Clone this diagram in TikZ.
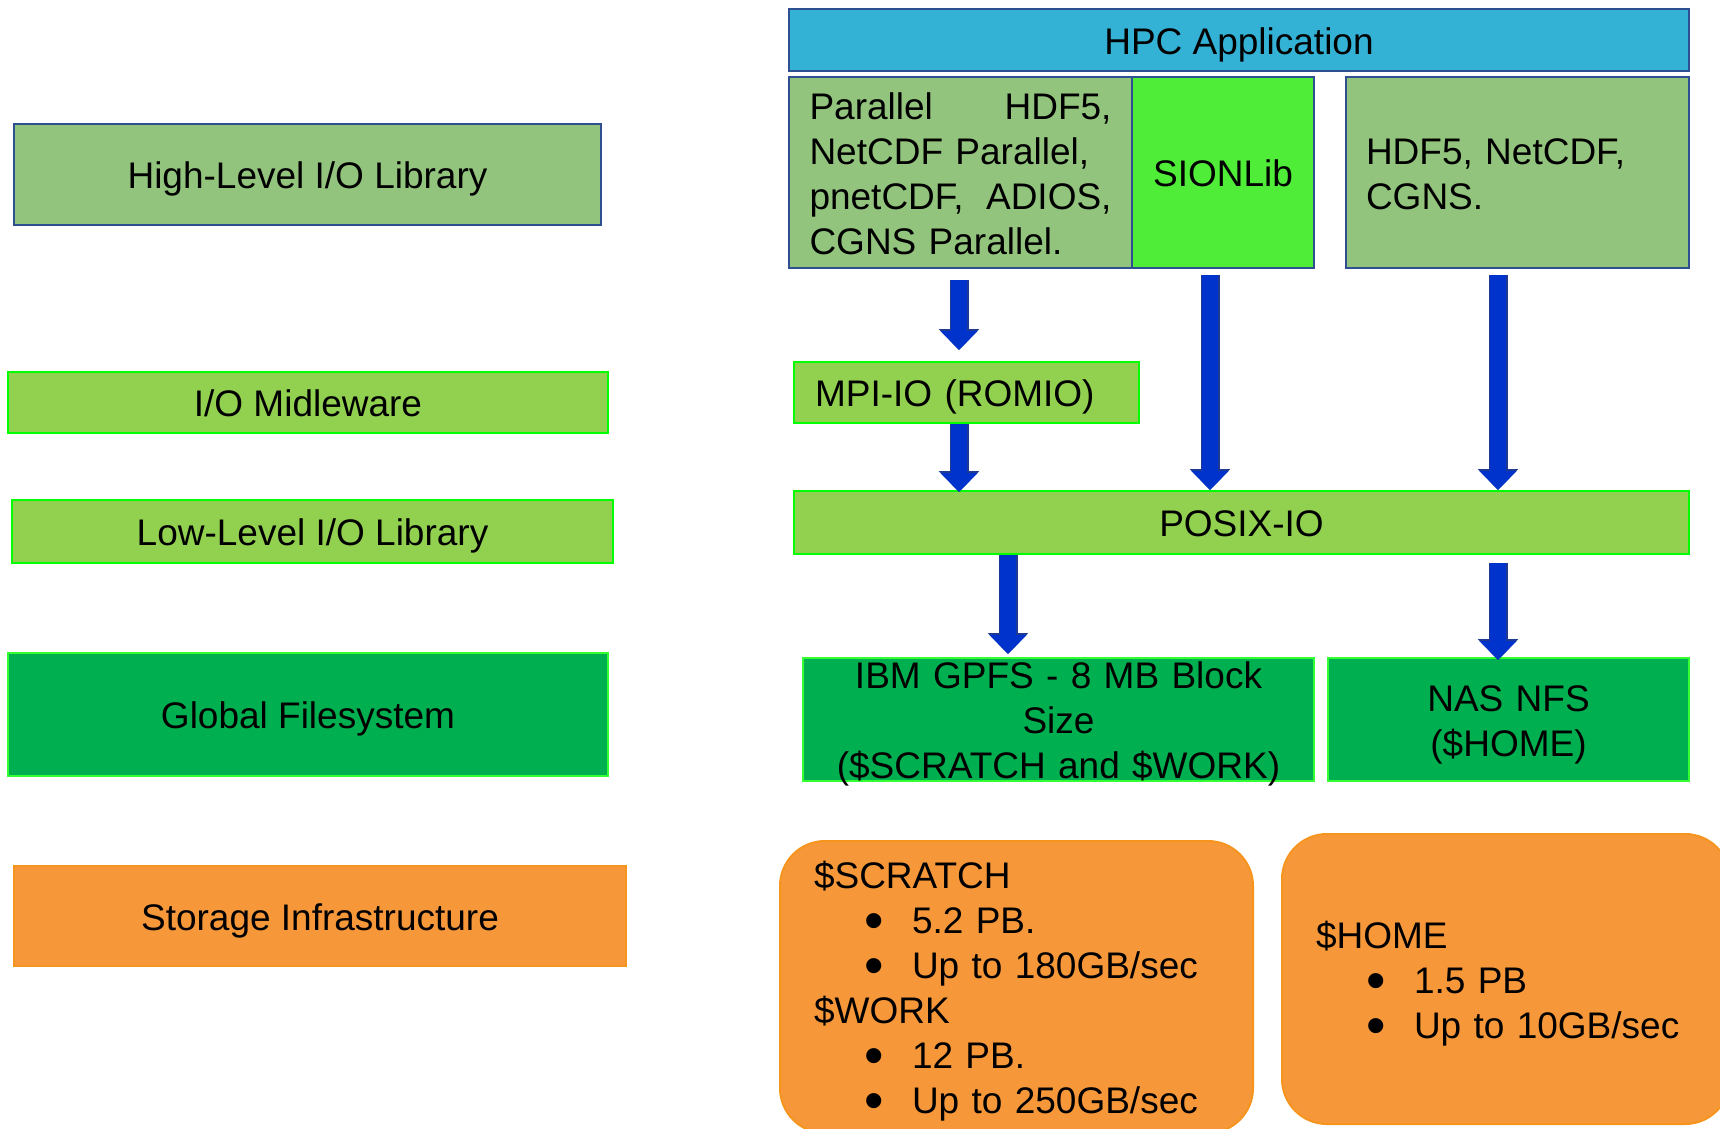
\documentclass[tikz,border=0pt]{standalone}
\usepackage{fontspec}
\setmainfont{Liberation Sans}
\usetikzlibrary{arrows.meta}
\definecolor{hpcblue}{HTML}{33B2D6}
\definecolor{navy}{HTML}{2F5090}
\definecolor{hlgreen}{HTML}{93C47D}
\definecolor{siongreen}{HTML}{4FEC38}
\definecolor{midgreen}{HTML}{92D050}
\definecolor{brightgreen}{HTML}{00FF00}
\definecolor{darkgreen}{HTML}{00B050}
\definecolor{edgegreen}{HTML}{33FF33}
\definecolor{orangefill}{HTML}{F6983A}
\definecolor{orangeedge}{HTML}{F7941D}
\definecolor{arrowblue}{HTML}{0033CC}
\definecolor{arrowedge}{HTML}{1F3A93}
\newcommand{\bigfont}{\fontsize{37pt}{45pt}\selectfont}
\newcommand{\linestrut}{\rule[-7.8pt]{0pt}{44pt}}
\newcommand{\bul}{\hspace*{50pt}\makebox[48pt][l]{\smash{\raisebox{-6pt}{\scalebox{1.5}{•}}}}}
\begin{document}
\begin{tikzpicture}[x=1pt,y=-1pt,
  box/.style={rectangle, inner sep=0pt, font=\bigfont, text=black, line width=2pt,
    execute at begin node=\linestrut, execute at end node=\linestrut},
  hpcbox/.style={box, fill=hpcblue, draw=navy},
  hlbox/.style={box, fill=hlgreen, draw=navy},
  sionbox/.style={box, fill=siongreen, draw=navy},
  midbox/.style={box, fill=midgreen, draw=brightgreen},
  fsbox/.style={box, fill=darkgreen, draw=edgegreen},
  storbox/.style={box, fill=orangefill, draw=orangeedge},
  roundstor/.style={storbox, rounded corners=45pt},
  barrow/.style={draw=arrowblue, line width=16.5pt, -{Triangle[width=36pt,length=19pt]},
    preaction={draw=arrowedge, line width=19pt, -{Triangle[width=39.5pt,length=21pt]}}}
]
\useasboundingbox (0,0) rectangle (1720,1128);
\clip (0,0) rectangle (1720,1128);

% left column
\node[hlbox, minimum width=587pt, minimum height=101pt] (hl) at (307.5,174.5) {High-Level I/O Library};
\node[midbox, minimum width=600pt, minimum height=61pt] (mw) at (308,402.5) {I/O Midleware};
\node[midbox, minimum width=601pt, minimum height=63pt] (ll) at (312.5,531.5) {Low-Level I/O Library};
\node[fsbox, minimum width=600pt, minimum height=123pt] (gf) at (308,714.5) {Global Filesystem};
\node[storbox, minimum width=612pt, minimum height=100pt] (si) at (320,916) {Storage Infrastructure};

% right stack
\node[hpcbox, minimum width=900pt, minimum height=62pt] (hpc) at (1239,40) {HPC Application};
\node[hlbox, minimum width=343pt, minimum height=191pt, text width=302pt, align=left] (par) at (960.5,172.5)
  {Parallel\hfill HDF5,\\NetCDF Parallel,\\pnetCDF,\hfill ADIOS,\\CGNS Parallel.};
\node[sionbox, minimum width=182pt, minimum height=191pt] (sion) at (1223,172.5) {SIONLib};
\node[hlbox, minimum width=343pt, minimum height=191pt, text width=303pt, align=left] (hdf) at (1517.5,172.5)
  {HDF5, NetCDF,\\CGNS.};
\node[midbox, minimum width=345pt, minimum height=61pt, text width=303pt, align=left] (mpi) at (966.5,392.5) {MPI-IO (ROMIO)};
\node[midbox, minimum width=895pt, minimum height=63pt] (posix) at (1241.5,522.5) {POSIX-IO};
\node[fsbox, minimum width=511pt, minimum height=123pt, text width=511pt, inner ysep=-8pt, align=center] (gpfs) at (1058.5,719.5)
  {IBM GPFS - 8 MB Block\\Size\\(\$SCRATCH and \$WORK)};
\node[fsbox, minimum width=361pt, minimum height=123pt, text width=361pt, align=center] (nas) at (1508.5,719.5)
  {NAS NFS\\(\$HOME)};
\node[roundstor, minimum width=473pt, minimum height=292pt, text width=405pt, align=left] (scr) at (1016.5,987)
  {\$SCRATCH\\\bul 5.2 PB.\\\bul Up to 180GB/sec\\\$WORK\\\bul 12 PB.\\\bul Up to 250GB/sec};
\node[roundstor, minimum width=448pt, minimum height=290pt, text width=380pt, align=left] (home) at (1506,979)
  {\$HOME\\\bul 1.5 PB\\\bul Up to 10GB/sec};

% arrow columns
\coordinate (c1) at (959,0);
\coordinate (c2) at (1210,0);
\coordinate (c3) at (1498,0);
\coordinate (c4) at (1008,0);

\draw[barrow, shorten <=11pt, shorten >=11pt] (par.south -| c1) -- (mpi.north -| c1);
\draw[barrow, shorten >=-2pt] (mpi.south -| c1) -- (posix.north -| c1);
\draw[barrow, shorten <=6pt] (sion.south -| c2) -- (posix.north -| c2);
\draw[barrow, shorten <=6pt] (hdf.south -| c3) -- (posix.north -| c3);
\draw[barrow, shorten >=3pt] (posix.south -| c4) -- (gpfs.north -| c4);
\draw[barrow, shorten <=8pt, shorten >=-3pt] (posix.south -| c3) -- (nas.north -| c3);
\end{tikzpicture}
\end{document}
